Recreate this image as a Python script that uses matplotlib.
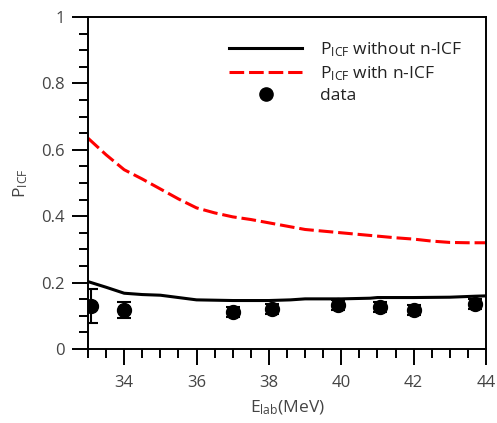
import matplotlib
matplotlib.use("Agg")
import matplotlib.pyplot as plt
from matplotlib.lines import Line2D
from matplotlib.ticker import MultipleLocator, FuncFormatter

plt.rcParams['font.family'] = ['Open Sans', 'DejaVu Sans']
plt.rcParams['mathtext.fontset'] = 'custom'
plt.rcParams['mathtext.rm'] = 'Open Sans'
plt.rcParams['mathtext.it'] = 'Open Sans'

# Calculated ICF probability without n-ICF contribution
e_no_nicf = [33.0, 33.5, 34.0, 34.5, 35.0, 35.5, 36.0, 37.0, 38.0, 38.6, 39.0,
             40.0, 40.8, 41.0, 42.0, 43.0, 43.7, 44.0]
p_no_nicf = [0.203, 0.186, 0.168, 0.164, 0.162, 0.155, 0.148, 0.146, 0.146, 0.148,
             0.151, 0.151, 0.153, 0.155, 0.155, 0.156, 0.159, 0.160]

# Calculated ICF probability with n-ICF contribution
e_with_nicf = [33.0, 33.5, 34.0, 34.5, 35.0, 35.5, 36.0, 36.5, 37.0, 37.5, 38.0,
               38.5, 39.0, 39.5, 40.0, 40.5, 41.0, 41.5, 42.0, 42.5, 43.0, 43.5, 44.0]
p_with_nicf = [0.635, 0.585, 0.540, 0.512, 0.482, 0.452, 0.425, 0.410, 0.398, 0.390,
               0.380, 0.370, 0.360, 0.355, 0.350, 0.345, 0.340, 0.335, 0.331, 0.325,
               0.321, 0.320, 0.320]

# Measured ICF probability
e_data = [33.08, 34.0, 37.0, 38.08, 39.9, 41.06, 42.0, 43.7]
p_data = [0.130, 0.117, 0.112, 0.120, 0.133, 0.126, 0.117, 0.136]
p_err = [0.052, 0.025, 0.015, 0.015, 0.015, 0.015, 0.015, 0.015]

fig = plt.figure(figsize=(4.97, 4.23), dpi=100)
ax = fig.add_axes([88 / 497, 74 / 423, 398 / 497, 332 / 423])

l1, = ax.plot(e_no_nicf, p_no_nicf, color='black', lw=2.2)
l2, = ax.plot(e_with_nicf, p_with_nicf, color='red', lw=2.2, dashes=(4.8, 1.6))
ax.errorbar(e_data, p_data, yerr=p_err, fmt='o', color='black', ms=10,
            capsize=5, elinewidth=1.5, capthick=1.5)
dot = Line2D([], [], ls='none', marker='o', color='black', ms=9.5)

ax.set_xlim(33, 44)
ax.set_ylim(0, 1)

ax.xaxis.set_major_locator(MultipleLocator(2))
ax.xaxis.set_minor_locator(MultipleLocator(0.5))
ax.yaxis.set_major_locator(MultipleLocator(0.2))
ax.yaxis.set_minor_locator(MultipleLocator(0.05))
ax.yaxis.set_major_formatter(FuncFormatter(lambda v, p: f'{v:g}'))
ax.xaxis.set_major_formatter(FuncFormatter(lambda v, p: '' if abs(v - 33) < 1e-6 else f'{v:g}'))

tcol = '#444444'
ax.tick_params(which='major', direction='out', length=11.5, width=1.4,
               labelsize=12, labelcolor=tcol, pad=5)
ax.tick_params(axis='x', which='major', pad=7)
ax.tick_params(which='minor', direction='out', length=6.5, width=1.4)
ax.tick_params(top=False, right=False, which='both')
for s in ax.spines.values():
    s.set_linewidth(1.4)

ax.set_xlabel(r'E$_{\mathrm{lab}}$(MeV)', fontsize=12.5, color=tcol, labelpad=6)
ax.set_ylabel(r'P$_{\mathrm{ICF}}$', fontsize=12.5, color=tcol, labelpad=8)

leg = ax.legend([l1, l2, dot],
                [r'P$_{\mathrm{ICF}}$ without n-ICF', r'P$_{\mathrm{ICF}}$ with n-ICF', 'data'],
                loc='upper left', bbox_to_anchor=(0.355, 0.93), frameon=False,
                fontsize=12.5, handlelength=4.2, handletextpad=1.0,
                labelspacing=0.3, borderpad=0, borderaxespad=0)
for t in leg.get_texts():
    t.set_color('#222222')

fig.savefig('out.png', dpi=100)
